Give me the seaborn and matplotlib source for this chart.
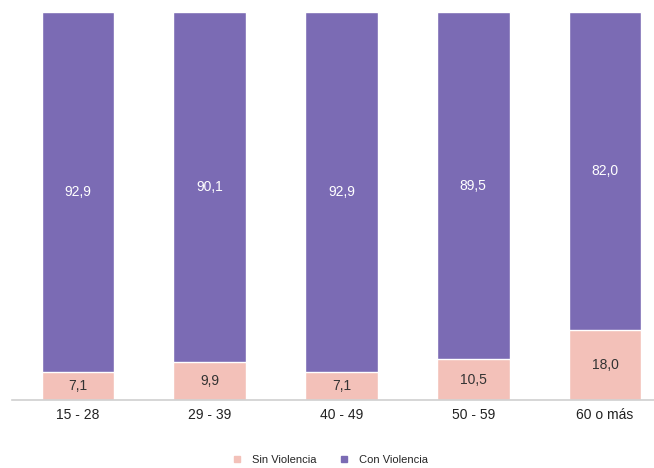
import matplotlib
matplotlib.use("Agg")
import matplotlib.pyplot as plt
from matplotlib.lines import Line2D
import seaborn as sns
import pandas as pd

# datos
grupos = ["15 - 28", "29 - 39", "40 - 49", "50 - 59", "60 o más"]
sin_violencia = [7.1, 9.9, 7.1, 10.5, 18.0]
con_violencia = [92.9, 90.1, 92.9, 89.5, 82.0]

color_sin = "#F3C1B9"
color_con = "#7B6BB4"

sns.set_theme(style="white")
plt.rcParams["font.family"] = ["Liberation Sans Narrow", "Liberation Sans", "DejaVu Sans"]

df = pd.DataFrame({"grupo": grupos, "sin": sin_violencia, "con": con_violencia})
df["total"] = df["sin"] + df["con"]

fig = plt.figure(figsize=(6.54, 4.68), dpi=100)
ax = fig.add_axes([12 / 654, 68 / 468, 659 / 654, 388 / 468])

sns.barplot(data=df, x="grupo", y="total", color=color_con, width=0.55,
            saturation=1, ax=ax)
sns.barplot(data=df, x="grupo", y="sin", color=color_sin, width=0.55,
            saturation=1, ax=ax)

# etiquetas de valores
for i, (s, c) in enumerate(zip(sin_violencia, con_violencia)):
    ax.text(i, s / 2, f"{s:.1f}".replace(".", ","), ha="center", va="center",
            fontsize=10, color="#333333")
    ax.text(i, s + c / 2, f"{c:.1f}".replace(".", ","), ha="center", va="center",
            fontsize=10, color="white")

ax.set_ylim(0, 100)
ax.set_xlim(-0.5, 4.5)
ax.set_xlabel("")
ax.set_ylabel("")
ax.set_yticks([])
ax.tick_params(axis="x", length=0, labelsize=10, pad=6, colors="#222222")
for side in ["top", "right", "left"]:
    ax.spines[side].set_visible(False)
ax.spines["bottom"].set_color("#D0D0D0")
ax.spines["bottom"].set_linewidth(1.2)

handles = [
    Line2D([], [], marker="s", linestyle="", color=color_sin, markersize=4, label="Sin Violencia"),
    Line2D([], [], marker="s", linestyle="", color=color_con, markersize=4, label="Con Violencia"),
]
fig.legend(handles=handles, loc="center", bbox_to_anchor=(0.5, 8 / 468), ncol=2,
           frameon=False, fontsize=8, handletextpad=0.3, columnspacing=1.5)

fig.savefig("out.png", dpi=100, facecolor="white")
